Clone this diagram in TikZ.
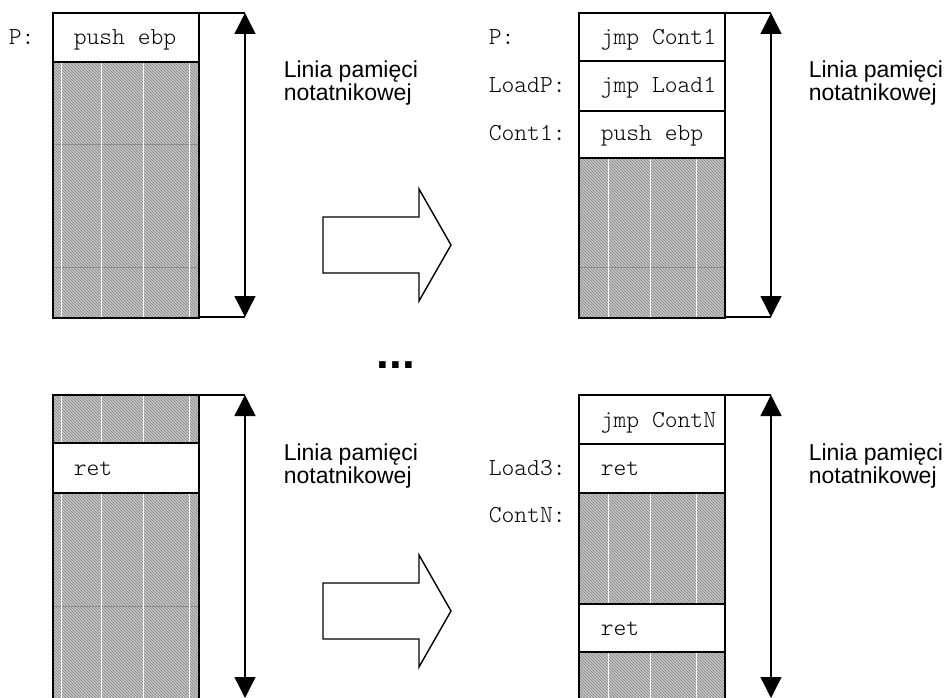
\documentclass[tikz,border=0pt]{standalone}
\usepackage{fontspec}
\setmainfont{Liberation Sans}
\setmonofont{Latin Modern Mono Light}
\usetikzlibrary{arrows.meta,patterns}

\begin{document}
\begin{tikzpicture}[x=1pt, y=-1pt, line width=1.6pt, font=\fontsize{23}{24}\selectfont,
	code/.style={font=\ttfamily\fontsize{24.4}{25}\selectfont, inner sep=0pt, anchor=base west},
	txt/.style={inner sep=0pt, anchor=base west},
	hatch/.style={fill=black!22, postaction={pattern=north west lines, pattern color=black!50}},
	dimline/.style={line width=1.4pt, {Triangle[width=21pt,length=21pt]}-{Triangle[width=21pt,length=21pt]}},
	tick/.style={line width=1.2pt}]
	\useasboundingbox (0,0) rectangle (951,698);
	\clip (0,0) rectangle (951,698);

	% top left block
	\fill[hatch] (53,62) rectangle (199,318);
	\foreach \y in {144,267} \draw[black!45, line width=0.8pt] (53,\y) -- (199,\y);
	\foreach \x in {61,101,143,189} \draw[white, line width=0.8pt] (\x,62) -- (\x,318);
	\draw (53,13) rectangle (199,318);
	\draw (53,62) -- (199,62);

	% top right block
	\fill[hatch] (579,158) rectangle (725,318);
	\draw[black!45, line width=0.8pt] (579,267) -- (725,267);
	\foreach \x in {608,650,696} \draw[white, line width=0.8pt] (\x,158) -- (\x,318);
	\draw (579,13) rectangle (725,318);
	\foreach \y in {61,111,158} \draw (579,\y) -- (725,\y);

	% bottom left block
	\fill[hatch] (53,395) rectangle (199,443);
	\fill[hatch] (53,493) rectangle (199,710);
	\draw[black!45, line width=0.8pt] (53,606) -- (199,606);
	\foreach \x in {61,101,143,189} {
		\draw[white, line width=0.8pt] (\x,395) -- (\x,443);
		\draw[white, line width=0.8pt] (\x,493) -- (\x,710);
	}
	\draw (53,710) -- (53,395) -- (199,395) -- (199,710);
	\draw (53,443) -- (199,443);
	\draw (53,493) -- (199,493);

	% bottom right block
	\fill[hatch] (579,493) rectangle (725,604);
	\fill[hatch] (579,652) rectangle (725,710);
	\foreach \x in {608,650,696} {
		\draw[white, line width=0.8pt] (\x,493) -- (\x,604);
		\draw[white, line width=0.8pt] (\x,652) -- (\x,710);
	}
	\draw (579,710) -- (579,395) -- (725,395) -- (725,710);
	\foreach \y in {444,493,604,652} \draw (579,\y) -- (725,\y);

	% line size arrows
	\coordinate (tla) at (245,13);  \coordinate (tlb) at (245,317);
	\coordinate (tra) at (771,13);  \coordinate (trb) at (771,317);
	\coordinate (bla) at (245,395); \coordinate (blb) at (245,698);
	\coordinate (bra) at (771,395); \coordinate (brb) at (771,698);
	\draw[tick] (199,13) -- (tla);  \draw[tick] (199,317) -- (tlb);
	\draw[tick] (725,13) -- (tra);  \draw[tick] (725,317) -- (trb);
	\draw[tick] (199,395) -- (bla);
	\draw[tick] (725,395) -- (bra);
	\draw[dimline] (tla) -- (tlb);
	\draw[dimline] (tra) -- (trb);
	\draw[dimline] (bla) -- (blb);
	\draw[dimline] (bra) -- (brb);

	% big arrows
	\draw[line width=1.4pt, fill=white] (323,217) -- (419,217) -- (419,189) -- (451,245)
		-- (419,301) -- (419,273) -- (323,273) -- cycle;
	\draw[line width=1.4pt, fill=white] (323,583) -- (419,583) -- (419,555) -- (451,611)
		-- (419,667) -- (419,639) -- (323,639) -- cycle;

	%labels
	\node[code] (p1) at (8,45) {P:};
	\node[code] (push1) at (73,45) {push ebp};
	\node[code] (p2) at (488,45) {P:};
	\node[code] (loadp) at (488,93) {LoadP:};
	\node[code] (cont1) at (488,141) {Cont1:};
	\node[code] (jmp1) at (600,45) {jmp Cont1};
	\node[code] (jmp2) at (600,93) {jmp Load1};
	\node[code] (push2) at (600,141) {push ebp};

	\node[code] (ret1) at (73,475) {ret};
	\node[code] (load3) at (488,475) {Load3:};
	\node[code] (contn) at (488,522) {ContN:};
	\node[code] (jmp3) at (600,427) {jmp ContN};
	\node[code] (ret2) at (600,475) {ret};
	\node[code] (ret3) at (600,635) {ret};

	\node[txt] (l1a) at (283,78) {Linia pamięci};
	\node[txt] (l1b) at (283,101) {notatnikowej};
	\node[txt] (l2a) at (808,78) {Linia pamięci};
	\node[txt] (l2b) at (808,101) {notatnikowej};
	\node[txt] (l3a) at (283,460) {Linia pamięci};
	\node[txt] (l3b) at (283,483) {notatnikowej};
	\node[txt] (l4a) at (808,460) {Linia pamięci};
	\node[txt] (l4b) at (808,483) {notatnikowej};

	\node[inner sep=0pt, anchor=base] (dots) at (396,368) {\fontsize{46}{46}\selectfont\bfseries ...};
\end{tikzpicture}
\end{document}
